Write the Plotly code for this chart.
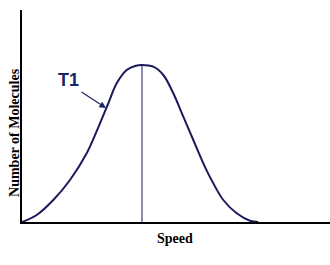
import plotly.graph_objects as go

# Data (relative units)
speed = [0, 14.7, 31.3, 48, 64.7, 78, 86.3, 94.7, 104.7, 113, 120, 131.3, 141.3,
         151.3, 161.3, 171.3, 181.3, 191.3, 201.3, 214.7, 228, 236.3]
molecules = [0, 7, 22, 42, 68.7, 98.7, 118.7, 138.7, 152, 156, 157, 155.3, 147,
             128.7, 105.3, 82, 58.7, 38.7, 22, 8.7, 1.3, 0]
peak_speed = 120
peak_count = 157
series_label = "T1"
x_title = "Speed"
y_title = "Number of Molecules"

navy = "#1a1a5c"
label_col = "#1b2466"

fig = go.Figure()
fig.add_trace(go.Scatter(x=speed, y=molecules, mode="lines",
                         line=dict(color=navy, width=2, shape="spline", smoothing=1.0),
                         hoverinfo="skip", showlegend=False))
fig.add_trace(go.Scatter(x=[peak_speed, peak_speed], y=[0, peak_count], mode="lines",
                         line=dict(color=navy, width=1), hoverinfo="skip", showlegend=False))

fig.add_annotation(x=46, y=142, xref="x", yref="y", text="<b>%s</b>" % series_label, showarrow=False,
                   font=dict(family="Liberation Sans", size=18, color=label_col),
                   xanchor="center", yanchor="middle")
fig.add_annotation(x=84, y=114, ax=58, ay=131, xref="x", yref="y", axref="x", ayref="y",
                   text="", showarrow=True, arrowhead=2, arrowsize=1.1, arrowwidth=1.2,
                   arrowcolor=label_col)
fig.add_annotation(x=0.497, y=-0.080, xref="paper", yref="paper", text="<b>%s</b>" % x_title,
                   showarrow=False,
                   font=dict(family="Liberation Serif", size=14, color="black"),
                   xanchor="center", yanchor="middle")
fig.add_annotation(x=-0.0227, y=0.42, xref="paper", yref="paper", text="<b>%s</b>" % y_title,
                   showarrow=False, textangle=-90,
                   font=dict(family="Liberation Serif", size=14, color="black"),
                   xanchor="center", yanchor="middle")

axis_common = dict(showgrid=False, zeroline=False, showticklabels=False, ticks="",
                   showline=True, linecolor="black", linewidth=2, fixedrange=True)
fig.update_xaxes(range=[0, 308], **axis_common)
fig.update_yaxes(range=[0, 212], **axis_common)

fig.update_layout(width=330, height=265, margin=dict(l=22, r=0, t=10, b=43),
                  paper_bgcolor="white", plot_bgcolor="white")
fig.write_html("out.html")
